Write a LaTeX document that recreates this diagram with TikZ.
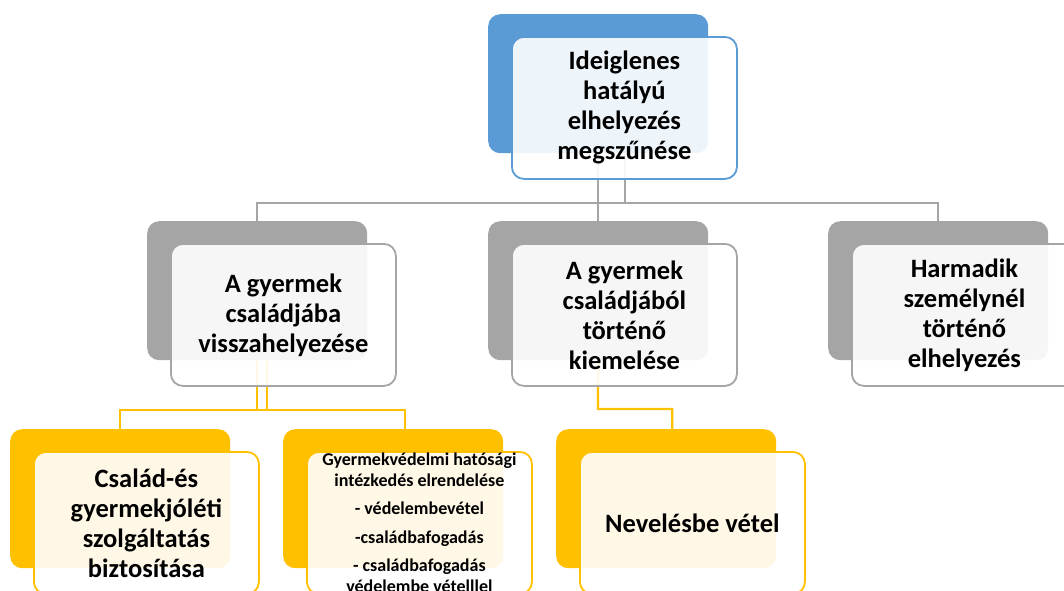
\documentclass[tikz,border=0pt]{standalone}
\usepackage{fontspec}
\setmainfont{Carlito}
\definecolor{accBlue}{HTML}{5B9BD5}
\definecolor{accGray}{HTML}{A5A5A5}
\definecolor{accGold}{HTML}{FFC000}
\tikzset{
  back/.style={fill=#1, rounded corners=12pt, minimum width=220pt, minimum height=139pt, anchor=north west, inner sep=0pt},
  front/.style={draw=#1, line width=1.8pt, fill=white, fill opacity=0.9, text opacity=1, rounded corners=12pt,
    minimum width=225pt, minimum height=142pt, anchor=north west, inner sep=0pt, align=center,
    font=\bfseries\fontsize{26.5}{30}\selectfont},
  link/.style={draw=#1, line width=2.2pt},
}

\begin{document}
\begin{tikzpicture}[x=1pt,y=-1pt]
            \useasboundingbox (0,0) rectangle (1064,590);
            % hatter dobozok
            \foreach \n/\x/\y/\c in {topB/488/14/accBlue, glB/147/221/accGray, gmB/488/221/accGray, grB/828/221/accGray,
                                     ylB/10/429/accGold, ymB/283/429/accGold, yrB/556/429/accGold}
                \node[back=\c] (\n) at (\x,\y) {};
            % osszekotok
            \coordinate (hub) at (598,203);
            \coordinate (yhub) at (262,410);
            \coordinate (mhub) at (598,409);
            \draw[link=accGray] (topB.south) -- (gmB.north);
            \draw[link=accGray] ([xshift=27pt]topB.south) |- (hub);
            \draw[link=accGray] (glB.north) |- (hub) -| (grB.north);
            \draw[link=accGold] (glB.south) |- (yhub);
            \draw[link=accGold] ([xshift=10pt]glB.south) |- (yhub);
            \draw[link=accGold] (ylB.north) |- (yhub) -| ([xshift=12pt]ymB.north);
            \draw[link=accGold] (gmB.south) -- (mhub) -| ([xshift=6pt]yrB.north);
            % elso dobozok
            \node[front=accBlue] (top) at ([shift={(23,22)}]topB.north west) {Ideiglenes\\hatályú\\elhelyezés\\megszűnése};
            \node[front=accGray] (gl) at ([shift={(23,22)}]glB.north west) {A gyermek\\családjába\\visszahelyezése};
            \node[front=accGray] (gm) at ([shift={(23,22)}]gmB.north west) {A gyermek\\családjából\\történő\\kiemelése};
            \node[front=accGray] (gr) at ([shift={(23,22)}]grB.north west) {Harmadik\\személynél\\történő\\elhelyezés};
            \node[front=accGold] (yl) at ([shift={(23,22)}]ylB.north west) {Család-és\\gyermekjóléti\\szolgáltatás\\biztosítása};
            \node[front=accGold, font=\bfseries\fontsize{18}{20.5}\selectfont] (ym) at ([shift={(23,22)}]ymB.north west)
                {Gyermekvédelmi hatósági\\intézkedés elrendelése\\[8pt]- védelembevétel\\[8pt]-családbafogadás\\[8pt]- családbafogadás\\védelembe vételllel};
            \node[front=accGold] (yr) at ([shift={(23,22)}]yrB.north west) {Nevelésbe vétel};
        \end{tikzpicture}
\end{document}
